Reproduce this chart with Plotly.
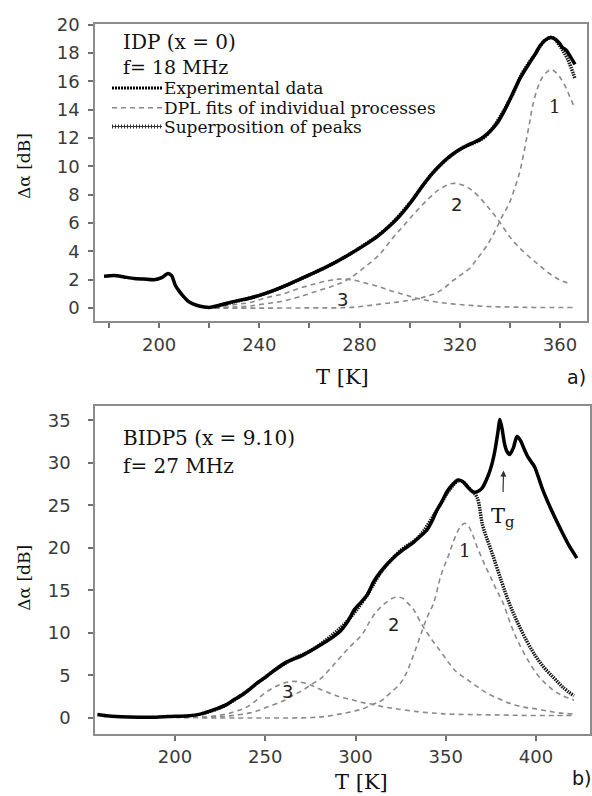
import plotly.graph_objects as go

# ---------------- panel a) IDP, f = 18 MHz ----------------
exp_T_a = [178, 182, 186, 190, 194, 198, 201, 203.5, 205, 206.5, 208, 209.6, 211.5, 213.5, 216, 218, 220,
           223, 227, 232, 236, 240, 245, 250, 255, 260, 265, 270, 276, 282, 287, 292, 296, 301, 305, 309,
           313, 317, 321, 325, 328, 331, 334.7, 338, 341, 344, 347.8, 350, 352, 354, 356.2, 358, 359.8,
           361, 362.5, 364, 365, 366]
exp_v_a = [2.25, 2.3, 2.2, 2.1, 2.05, 2.0, 2.15, 2.45, 2.3, 1.6, 1.2, 0.85, 0.5, 0.3, 0.15, 0.08, 0.05,
           0.15, 0.35, 0.55, 0.7, 0.9, 1.2, 1.55, 1.95, 2.35, 2.75, 3.2, 3.8, 4.45, 5.05, 5.8, 6.5, 7.6, 8.6,
           9.5, 10.25, 10.85, 11.3, 11.65, 11.9, 12.3, 13.0, 14.0, 15.1, 16.2, 17.3, 17.9, 18.5, 18.9, 19.1,
           19.0, 18.7, 18.4, 18.2, 17.8, 17.5, 17.2]

sup_T_a = [222, 230, 240, 250, 260, 270, 280, 290, 300, 310, 320, 330, 340, 345, 350, 354, 357, 360, 363, 366]
sup_v_a = [0.1, 0.45, 0.9, 1.55, 2.35, 3.2, 4.25, 5.5, 7.4, 9.7, 11.2, 12.1, 14.7, 16.6, 17.9, 18.9, 19.1,
           18.5, 17.6, 16.2]

fit1_T_a = [222, 240, 260, 276, 289, 296, 302.8, 307, 310.5, 314, 317, 320.5, 323.9, 327, 330.6, 334, 337,
            339.8, 341.8, 343.8, 345.3, 346.6, 348, 349, 351, 353, 355, 356.5, 358, 360, 362, 364, 365.5]
fit1_v_a = [0.0, 0.0, 0.02, 0.05, 0.3, 0.45, 0.65, 0.85, 1.05, 1.45, 1.9, 2.35, 2.8, 3.5, 4.35, 5.4, 6.5,
            7.4, 8.4, 9.5, 10.7, 11.9, 13.2, 14.2, 15.5, 16.3, 16.7, 16.85, 16.7, 16.3, 15.7, 14.9, 14.3]

fit2_T_a = [222, 230, 236, 240, 249.4, 256, 262.9, 270, 276, 282.8, 288, 293, 298, 303, 308, 312, 317, 321,
            325, 330, 335, 341, 346, 350.6, 355, 359.8, 364.5]
fit2_v_a = [0.02, 0.08, 0.15, 0.25, 0.5, 0.8, 1.2, 1.6, 2.1, 3.0, 3.8, 4.9, 5.9, 6.9, 7.8, 8.4, 8.8, 8.7,
            8.3, 7.4, 6.3, 4.8, 3.9, 3.2, 2.55, 2.0, 1.7]

fit3_T_a = [222, 230, 236.3, 243, 249.4, 256, 262.9, 268, 272, 277, 282.8, 288, 293, 298, 302.8, 310, 317,
            324, 330.6, 340, 350, 365]
fit3_v_a = [0.05, 0.25, 0.4, 0.75, 1.0, 1.4, 1.75, 1.95, 2.05, 2.0, 1.75, 1.5, 1.2, 0.95, 0.7, 0.45, 0.3,
            0.2, 0.12, 0.08, 0.05, 0.05]

# ---------------- panel b) BIDP5, f = 27 MHz ----------------
exp_T_b = [157, 162, 170, 180, 190, 200, 208, 214, 219.4, 224, 228.8, 233, 237.7, 241.5, 245.4, 249.3, 255,
           262, 270, 276, 280.8, 286, 291, 295.5, 299.6, 303, 306.3, 310, 313.5, 318, 322.9, 327, 331.8,
           335.5, 339.5, 342.5, 345, 348, 350.6, 353.5, 356.7, 359.5, 362, 365, 367.2, 370, 373.3, 375.5,
           377.2, 378.8, 380, 381.2, 382.5, 383.8, 385.5, 387.5, 389.4, 391.5, 393.5, 395.5, 399.3, 403.8,
           409.3, 414.8, 418.5, 422.6]
exp_v_b = [0.4, 0.25, 0.15, 0.1, 0.1, 0.2, 0.25, 0.45, 0.8, 1.15, 1.6, 2.2, 2.8, 3.4, 4.1, 4.65, 5.6,
           6.6, 7.3, 8.0, 8.6, 9.3, 10.1, 11.3, 12.8, 13.6, 14.4, 16.0, 17.1, 18.2, 19.2, 19.9, 20.6,
           21.3, 22.1, 23.2, 24.4, 25.5, 26.6, 27.4, 28.0, 27.8, 27.2, 26.6, 26.6, 27.0, 28.4, 29.8,
           31.4, 33.5, 35.1, 34.0, 32.3, 31.4, 31.0, 31.8, 33.1, 32.6, 31.6, 30.7, 29.5, 26.8,
           24.1, 21.7, 20.2, 18.8]

sup_T_b = [215, 225, 235, 245, 255, 265, 275, 285, 295, 305, 315, 325, 335, 345, 352, 357, 360, 363, 367.2,
           370.5, 375.5, 381, 385, 389.4, 395, 400, 405, 410.4, 415, 421]
sup_v_b = [0.5, 1.2, 2.4, 4.0, 5.6, 6.9, 7.9, 9.4, 11.3, 14.0, 17.4, 19.7, 21.3, 24.4, 26.8, 27.9, 27.7,
           27.0, 26.0, 22.6, 19.5, 16.0, 13.6, 11.4, 9.0, 7.2, 5.8, 4.6, 3.6, 2.6]

fit1_T_b = [215, 250, 276, 284, 291, 297, 303.6, 309.6, 314, 319, 324.6, 328, 330.7, 334, 337.3, 340, 342.3,
            344, 346.7, 348.5, 350.6, 352.5, 354, 356.5, 358.5, 360.6, 362.5, 365, 367.2, 370, 372.7,
            375.5, 378, 381.6, 386, 390, 395, 400, 405, 410, 415, 421]
fit1_v_b = [0.0, 0.0, 0.05, 0.2, 0.45, 0.7, 1.05, 1.6, 2.0, 2.9, 4.0, 5.2, 6.6, 8.5, 10.5, 12.0, 13.0,
            14.0, 16.3, 17.5, 18.6, 19.7, 20.6, 21.9, 22.6, 22.9, 22.6, 21.5, 20.2, 18.8, 17.5,
            16.3, 15.1, 13.6, 11.0, 9.0, 7.0, 5.3, 4.1, 3.2, 2.6, 2.1]

fit2_T_b = [205, 220, 230, 241.5, 250, 259.8, 265, 271, 276, 280.8, 286, 291, 297, 303.6, 308, 312, 317,
            322, 326, 328.5, 332, 337, 342, 347.3, 352, 356, 360, 363.3, 368, 372.6, 380, 387, 394, 400.4,
            407, 413, 421.5]
fit2_v_b = [0.05, 0.1, 0.25, 0.6, 1.2, 2.0, 2.6, 3.3, 4.0, 4.65, 5.8, 7.0, 8.4, 9.8, 11.4, 12.6, 13.6,
            14.2, 14.1, 13.6, 12.8, 10.9, 9.3, 7.8, 6.4, 5.4, 4.8, 4.3, 3.6, 2.95, 2.2, 1.6, 1.25, 1.05,
            0.8, 0.6, 0.45]

fit3_T_b = [200, 215, 228, 234, 239, 244, 249, 254, 259, 263, 266, 270, 274.8, 280, 286, 291, 297, 303,
            309.6, 316, 322, 334, 345, 352, 365, 380, 395, 410, 421]
fit3_v_b = [0.05, 0.1, 0.45, 0.8, 1.2, 1.9, 2.8, 3.5, 4.0, 4.25, 4.3, 4.2, 3.9, 3.4, 2.9, 2.5, 2.2, 1.85,
            1.6, 1.3, 1.1, 0.75, 0.55, 0.45, 0.4, 0.35, 0.3, 0.3, 0.3]

ticks_x_a = [200, 240, 280, 320, 360]
minor_x_a = 20
ticks_y_a = list(range(0, 21, 2))
ticks_x_b = [200, 250, 300, 350, 400]
ticks_y_b = list(range(0, 36, 5))

legend_labels = ["Experimental data", "DPL fits of individual processes", "Superposition of peaks"]

W, H = 592, 796
SERIF = "DejaVu Serif"
SANS = "DejaVu Sans"
FIT_COLOR = "#8a8a8a"
FIT_DASH = "5px,4px"


def px(x):
    return x / W


def py(y):
    return 1 - y / H


fig = go.Figure()


def add_panel(xa, ya, exp_T, exp_v, sup_T, sup_v, fits):
    for T, v in fits:
        fig.add_trace(go.Scatter(x=T, y=v, mode="lines", xaxis=xa, yaxis=ya, showlegend=False,
                                 line=dict(color=FIT_COLOR, width=1.6, dash=FIT_DASH, shape="spline")))
    fig.add_trace(go.Scatter(x=sup_T, y=sup_v, mode="lines", xaxis=xa, yaxis=ya, showlegend=False,
                             line=dict(color="#151515", width=3.5, dash="1.5px,1px", shape="spline")))
    fig.add_trace(go.Scatter(x=exp_T, y=exp_v, mode="lines", xaxis=xa, yaxis=ya, showlegend=False,
                             line=dict(color="#000000", width=3.5, shape="spline", smoothing=0.6)))


add_panel("x", "y", exp_T_a, exp_v_a, sup_T_a, sup_v_a,
          [(fit1_T_a, fit1_v_a), (fit2_T_a, fit2_v_a), (fit3_T_a, fit3_v_a)])
add_panel("x2", "y2", exp_T_b, exp_v_b, sup_T_b, sup_v_b,
          [(fit1_T_b, fit1_v_b), (fit2_T_b, fit2_v_b), (fit3_T_b, fit3_v_b)])

axis_common = dict(showline=True, mirror=True, linecolor="#8c8c8c", linewidth=1.5, showgrid=False,
                   zeroline=False, ticks="outside", ticklen=5, tickwidth=1.5, tickcolor="#707070",
                   tickfont=dict(family=SANS, size=18, color="#3a3a3a"))

fig.update_layout(
    width=W, height=H, autosize=False,
    margin=dict(l=0, r=0, t=0, b=0),
    paper_bgcolor="white", plot_bgcolor="white",
    showlegend=False,
    xaxis=dict(axis_common, domain=[px(95), px(587)], range=[174.4, 370.8], anchor="y",
               tickmode="array", tickvals=ticks_x_a, ticklabelstandoff=2,
               minor=dict(ticks="outside", tick0=180, dtick=minor_x_a, ticklen=5, tickwidth=1.5,
                          tickcolor="#707070", showgrid=False)),
    yaxis=dict(axis_common, domain=[py(315), py(14)], range=[-0.91, 20.07], anchor="x",
               tickmode="array", tickvals=ticks_y_a, ticklabelstandoff=5),
    xaxis2=dict(axis_common, domain=[px(95), px(590)], range=[155.7, 429.9], anchor="y2",
                tickmode="array", tickvals=ticks_x_b, ticklabelstandoff=1),
    yaxis2=dict(axis_common, domain=[py(733), py(401)], range=[-1.86, 36.7], anchor="x2",
                tickmode="array", tickvals=ticks_y_b, ticklabelstandoff=14),
)

ann = []


def text_paper(txt, x, y, size, family=SERIF, xanchor="left", angle=0, color="#111111"):
    ann.append(dict(text=txt, x=px(x), y=py(y), xref="paper", yref="paper", showarrow=False,
                    xanchor=xanchor, yanchor="middle", textangle=angle,
                    font=dict(family=family, size=size, color=color)))


text_paper("IDP (x = 0)", 121, 32, 20)
text_paper("f= 18 MHz", 121, 58, 19)
text_paper("BIDP5 (x = 9.10)", 121, 433, 20)
text_paper("f= 27 MHz", 121, 462, 20)
text_paper("T [K]", 342, 372, 21, xanchor="center")
text_paper("T [K]", 361, 782, 21, xanchor="center")
text_paper("a)", 576, 372, 19, family=SANS, xanchor="center")
text_paper("b)", 581, 778, 19, family=SANS, xanchor="center")
text_paper("Δα [dB]", 24, 158, 17, xanchor="center", angle=-90)
text_paper("Δα [dB]", 24, 575, 17, xanchor="center", angle=-90)

# legend texts
for lbl, yy in zip(legend_labels, [79, 99, 118]):
    text_paper(lbl, 162, yy, 17)


def text_data(txt, x, y, xa, ya, family=SANS, size=18):
    ann.append(dict(text=txt, x=x, y=y, xref=xa, yref=ya, showarrow=False, xanchor="center",
                    yanchor="middle", font=dict(family=family, size=size, color="#222222")))


text_data("1", 357.8, 14.2, "x", "y", family=SERIF)
text_data("2", 318.7, 7.3, "x", "y")
text_data("3", 273.3, 0.63, "x", "y")
text_data("1", 360.6, 19.65, "x2", "y2", family=SERIF)
text_data("2", 321.3, 11.0, "x2", "y2")
text_data("3", 262.6, 3.1, "x2", "y2")

# Tg arrow
ann.append(dict(text="T<sub>g</sub>", x=382, y=29.1, xref="x2", yref="y2", showarrow=True,
                ax=-1, ay=46, axref="pixel", ayref="pixel", arrowhead=2, arrowsize=1, arrowwidth=1.2,
                arrowcolor="#333333", startstandoff=10,
                font=dict(family=SERIF, size=21, color="#111111")))

fig.update_layout(annotations=ann)

# legend line samples
shapes = [
    dict(type="line", xref="paper", yref="paper", x0=px(112), x1=px(162), y0=py(79), y1=py(79),
         line=dict(color="#000000", width=3, dash="2px,1px")),
    dict(type="line", xref="paper", yref="paper", x0=px(112), x1=px(162), y0=py(99), y1=py(99),
         line=dict(color=FIT_COLOR, width=1.6, dash=FIT_DASH)),
    dict(type="line", xref="paper", yref="paper", x0=px(112), x1=px(162), y0=py(118), y1=py(118),
         line=dict(color="#333333", width=4, dash="1px,2px")),
    dict(type="line", xref="paper", yref="paper", x0=px(112), x1=px(162), y0=py(118), y1=py(118),
         line=dict(color="#333333", width=1)),
]
fig.update_layout(shapes=shapes)

fig.write_html("out.html", config={"displayModeBar": False},
               post_script="document.body.style.margin='0';document.body.style.overflow='hidden';")
